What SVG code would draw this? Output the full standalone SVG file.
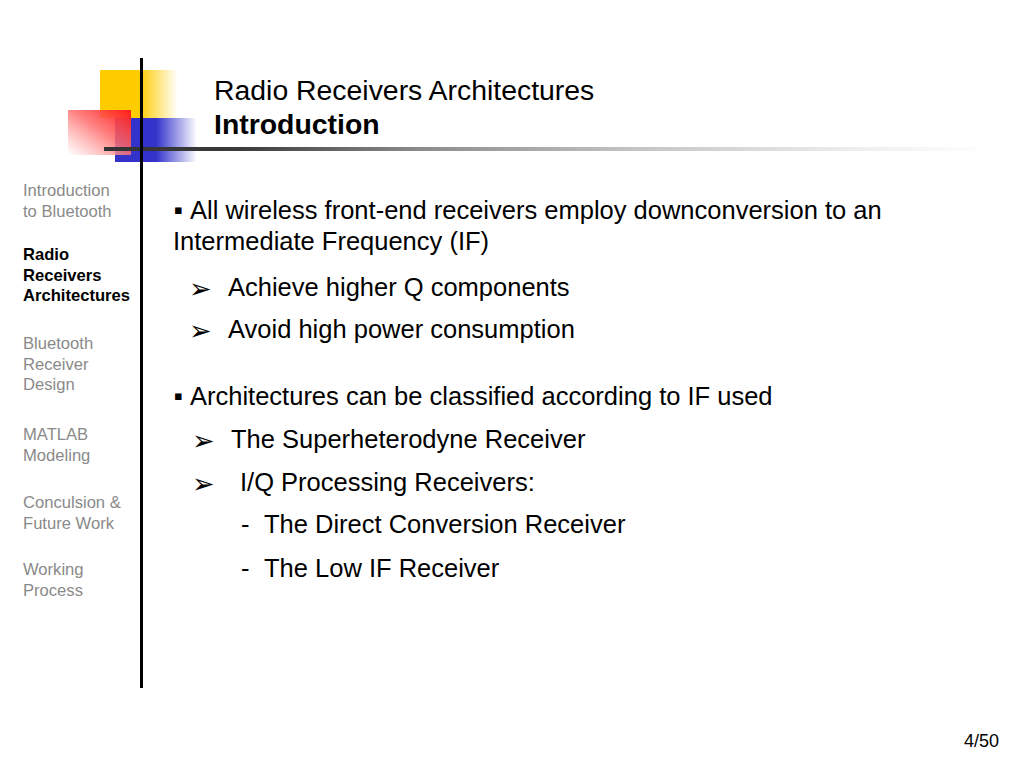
<svg xmlns="http://www.w3.org/2000/svg" width="1024" height="768" viewBox="0 0 1024 768">
<defs>
<linearGradient id="gYellow" x1="0" y1="0" x2="1" y2="0">
<stop offset="0" stop-color="#FFCC00"/>
<stop offset="0.5" stop-color="#FFCC00"/>
<stop offset="1" stop-color="#FFCC00" stop-opacity="0"/>
</linearGradient>
<linearGradient id="gBlue" x1="0" y1="0" x2="1" y2="0">
<stop offset="0" stop-color="#3333CC"/>
<stop offset="0.5" stop-color="#3333CC"/>
<stop offset="1" stop-color="#3333CC" stop-opacity="0"/>
</linearGradient>
<linearGradient id="gRed" x1="1" y1="0" x2="0" y2="1">
<stop offset="0" stop-color="#FF1A1A"/>
<stop offset="0.45" stop-color="#FF6666" stop-opacity="0.85"/>
<stop offset="1" stop-color="#FFFFFF" stop-opacity="0.7"/>
</linearGradient>
<linearGradient id="gRule" gradientUnits="userSpaceOnUse" x1="104" y1="0" x2="990" y2="0">
<stop offset="0" stop-color="#333333"/>
<stop offset="0.15" stop-color="#3a3a3a"/>
<stop offset="0.35" stop-color="#8a8a8a"/>
<stop offset="0.6" stop-color="#c4c4c4"/>
<stop offset="0.85" stop-color="#eeeeee"/>
<stop offset="1" stop-color="#ffffff"/>
</linearGradient>
</defs>
<style>
.t{font-family:"Liberation Sans",Arial,sans-serif;fill:#000}
.title{font-size:28.4px}
.sub{font-size:28.4px;font-weight:bold}
.body{font-size:25.5px}
.nav{font-size:16.6px;fill:#8a8a8a}
.navb{font-size:16.6px;font-weight:bold;fill:#000}
.sq{font-family:"DejaVu Sans",sans-serif;font-size:13px}
.ar{font-family:"DejaVu Sans",sans-serif;font-size:27px}
.pg{font-size:18px}
</style>
<rect width="1024" height="768" fill="#fff"/>
<g id="logo">
<rect x="100" y="70" width="78" height="48" fill="url(#gYellow)"/>
<rect x="115" y="118" width="82" height="44" fill="url(#gBlue)"/>
<rect x="68" y="110" width="63" height="45" fill="url(#gRed)"/>
<rect x="104" y="147" width="886" height="4" fill="url(#gRule)"/>
<rect x="140" y="58" width="3" height="630" fill="#000"/>
</g>
<g id="title">
<text class="t title" x="214" y="100">Radio Receivers Architectures</text>
<text class="t sub" x="214" y="134">Introduction</text>
</g>
<g id="nav">
<text class="t nav" x="23" y="196">Introduction</text>
<text class="t nav" x="23" y="217">to Bluetooth</text>
<text class="t navb" x="23" y="260">Radio</text>
<text class="t navb" x="23" y="280.5">Receivers</text>
<text class="t navb" x="23" y="301">Architectures</text>
<text class="t nav" x="23" y="349">Bluetooth</text>
<text class="t nav" x="23" y="369.5">Receiver</text>
<text class="t nav" x="23" y="390">Design</text>
<text class="t nav" x="23" y="440">MATLAB</text>
<text class="t nav" x="23" y="460.5">Modeling</text>
<text class="t nav" x="23" y="508">Conculsion &amp;</text>
<text class="t nav" x="23" y="528.5">Future Work</text>
<text class="t nav" x="23" y="575">Working</text>
<text class="t nav" x="23" y="595.5">Process</text>
</g>
<g id="body">
<text class="sq" x="174" y="213.5">▪</text>
<text class="t body" x="190" y="218.5">All wireless front-end receivers employ downconversion to an</text>
<text class="t body" x="173" y="249.5">Intermediate Frequency (IF)</text>
<text class="ar" x="189" y="298">➢</text>
<text class="t body" x="228" y="296">Achieve higher Q components</text>
<text class="ar" x="189" y="340">➢</text>
<text class="t body" x="228" y="338">Avoid high power consumption</text>
<text class="sq" x="174" y="400">▪</text>
<text class="t body" x="190" y="405">Architectures can be classified according to IF used</text>
<text class="ar" x="192" y="450">➢</text>
<text class="t body" x="231" y="448">The Superheterodyne Receiver</text>
<text class="ar" x="192" y="493">➢</text>
<text class="t body" x="240" y="491">I/Q Processing Receivers:</text>
<text class="t body" x="241" y="533">-</text>
<text class="t body" x="264" y="533">The Direct Conversion Receiver</text>
<text class="t body" x="241" y="577">-</text>
<text class="t body" x="264" y="577">The Low IF Receiver</text>
</g>
<g id="footer">
<text class="t pg" x="999" y="747" text-anchor="end">4/50</text>
</g>
</svg>
